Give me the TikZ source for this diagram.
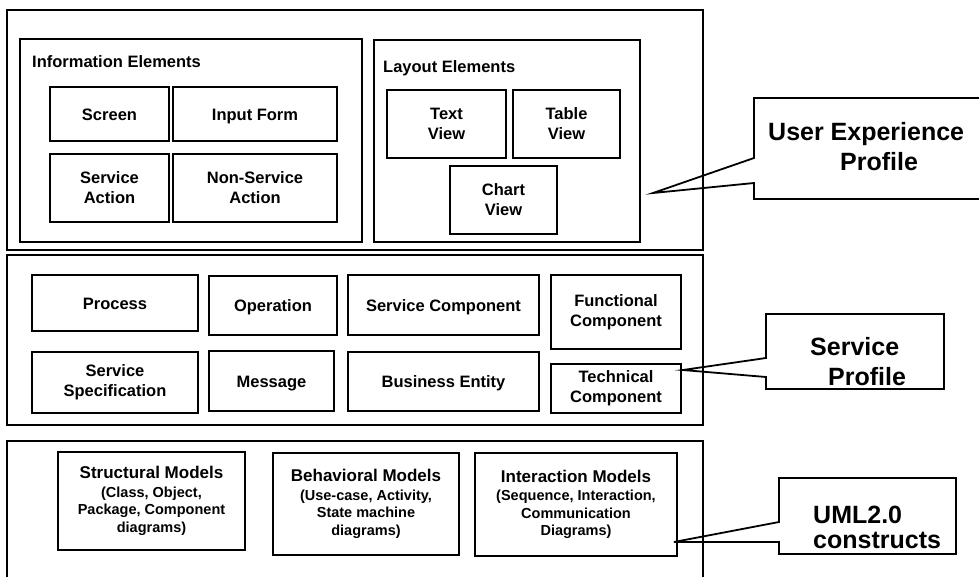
\documentclass[tikz,border=0pt]{standalone}
\usepackage{fontspec}
\setmainfont{Liberation Sans}
\tikzset{
  wh/.style 2 args={minimum width=#1pt, minimum height=#2pt},
  frame/.style={draw, line width=1.8pt, inner sep=0pt},
  box/.style={draw, line width=1.8pt, inner sep=0pt, align=center, font=\bfseries\fontsize{16.5}{20}\selectfont},
  oneline/.style={text height=12pt, text depth=0pt},
  modelbox/.style={box, font=\bfseries\fontsize{14.5}{17.5}\selectfont},
  grouplabel/.style={anchor=base west, inner sep=0pt, font=\bfseries\fontsize{16.5}{20}\selectfont},
  calloutline/.style={line width=1.8pt, line join=miter},
  callouttext/.style={anchor=base west, inner sep=0pt, align=left, font=\bfseries\fontsize{25}{30}\selectfont}
}
\begin{document}
\begin{tikzpicture}[x=1pt, y=-1pt]
\useasboundingbox (0,0) rectangle (979,576);
% outer frames
\node[frame, wh={696}{240}] (top) at (355,130) {};
\node[frame, wh={696}{170}] (mid) at (355,340) {};
\node[frame, wh={696}{159}] (bot) at (355,520.5) {};
% user experience layer
\node[frame, wh={342}{203}] (info) at (191,140.5) {};
\node[frame, wh={266}{202}] (layout) at (507,141) {};
\node[grouplabel] (infolabel) at (32,67) {Information Elements};
\node[grouplabel] (layoutlabel) at (383,72) {Layout Elements};
\node[box, oneline, wh={119}{54}] (screen) at (109.5,114) {Screen};
\node[box, oneline, wh={164}{54}] (input) at (255,114) {Input Form};
\node[box, wh={119}{68}] (servact) at (109.5,188) {Service\\Action};
\node[box, wh={164}{68}] (nonserv) at (255,188) {Non-Service\\Action};
\node[box, wh={119}{68}] (textview) at (446.5,124) {Text\\View};
\node[box, wh={107}{68}] (tableview) at (566.5,124) {Table\\View};
\node[box, wh={107}{68}] (chartview) at (503.5,200) {Chart\\View};
% service layer
\node[box, oneline, wh={166}{56}] (process) at (115,303) {Process};
\node[box, oneline, wh={128}{59}] (operation) at (273,305.5) {Operation};
\node[box, oneline, wh={191}{60}] (servcomp) at (443.5,305) {Service Component};
\node[box, wh={130}{74}] (funccomp) at (616,312) {Functional\\Component};
\node[box, wh={166}{61}] (servspec) at (115,382.5) {Service\\Specification};
\node[box, oneline, wh={125}{60}] (message) at (271.5,381) {Message};
\node[box, oneline, wh={191}{59}] (busent) at (443.5,381.5) {Business Entity};
\node[box, wh={130}{49}] (techcomp) at (616,388.5) {Technical\\Component};
% UML layer
\node[modelbox, wh={187}{98}] (structural) at (151.5,501) {{\fontsize{17}{18}\selectfont Structural Models}\\[1pt](Class, Object,\\Package, Component\\diagrams)};
\node[modelbox, wh={186}{102}] (behavioral) at (366,504) {{\fontsize{17}{18}\selectfont Behavioral Models}\\[1pt](Use-case, Activity,\\State machine\\diagrams)};
\node[modelbox, wh={202}{103}] (interaction) at (576,504.5) {{\fontsize{17}{18}\selectfont Interaction Models}\\[1pt](Sequence, Interaction,\\Communication\\Diagrams)};
% callouts
\coordinate (uxtip) at (653,193);
\coordinate (sptip) at ([xshift=1pt,yshift=18.5pt]techcomp.east);
\coordinate (umltip) at ([xshift=-4pt,yshift=-37.5pt]interaction.east);
\draw[calloutline] (754,183) -- (uxtip) -- (754,158) -- (754,98) -- (990,98) -- (990,199) -- (754,199) -- cycle;
\draw[calloutline] (766,377) -- (sptip) -- (766,358) -- (766,314) -- (944,314) -- (944,389) -- (766,389) -- cycle;
\draw[calloutline] (779,542) -- (umltip) -- (779,522) -- (779,478) -- (956,478) -- (956,554) -- (779,554) -- cycle;
\node[callouttext] (uxtext) at (768,170) {User Experience\\\hspace*{72pt}Profile};
\node[callouttext] (sptext) at (810,385) {Service\\\hspace*{18pt}Profile};
\node[callouttext, font=\bfseries\fontsize{25}{25}\selectfont] (umltext) at (813,548) {UML2.0\\constructs};
\end{tikzpicture}
\end{document}
